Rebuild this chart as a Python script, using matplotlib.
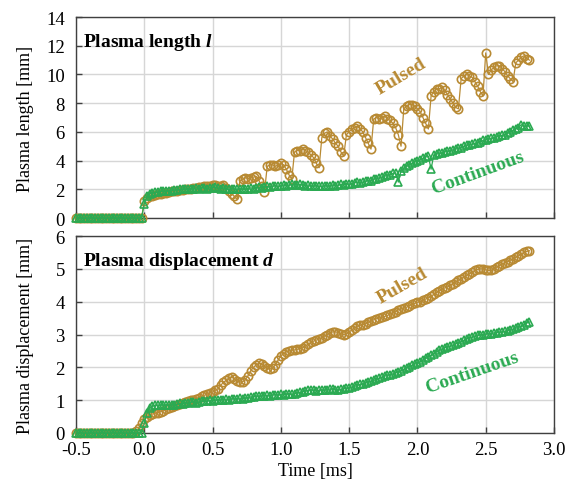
import numpy as np
import matplotlib
matplotlib.use("Agg")
import matplotlib.pyplot as plt

plt.rcParams['font.family'] = ['Liberation Serif', 'DejaVu Serif']
plt.rcParams['mathtext.fontset'] = 'custom'
plt.rcParams['mathtext.rm'] = 'Liberation Serif'
plt.rcParams['mathtext.it'] = 'Liberation Serif:italic'
plt.rcParams['mathtext.bf'] = 'Liberation Serif:bold'
plt.rcParams['mathtext.bfit'] = 'Liberation Serif:italic:bold'

# time base (ms), sampled every 0.02 ms
time_ms = np.round(np.arange(-0.5, 2.8201, 0.02), 2)

zeros_pre = [0, 0, 0, 0, 0, 0, 0, 0, 0, 0,
             0, 0, 0, 0, 0, 0, 0, 0, 0, 0,
             0, 0, 0, 0, 0]

pulsed_length = zeros_pre + [
    1.2, 1.4, 1.5, 1.55, 1.6, 1.65, 1.7, 1.72, 1.75, 1.8,
    1.85, 1.85, 1.9, 1.95, 1.95, 2.0, 2.0, 2.05, 2.1, 2.1,
    2.15, 2.15, 2.2, 2.25, 2.2, 2.3, 2.3, 2.25, 2.2, 2.3,
    2.1, 1.9, 1.7, 1.5, 1.3, 2.6, 2.7, 2.8, 2.75, 2.8,
    2.85, 2.9, 2.6, 2.2, 1.8, 3.6, 3.7, 3.7, 3.6, 3.7,
    3.8, 3.7, 3.4, 3.0, 2.7, 4.6, 4.7, 4.7, 4.8, 4.7,
    4.6, 4.4, 4.2, 3.8, 3.5, 5.6, 5.9, 6.0, 5.7, 5.5,
    5.2, 5.0, 4.6, 4.3, 5.8, 6.0, 6.2, 6.3, 6.4, 6.2,
    6.0, 5.6, 5.2, 4.8, 6.9, 7.0, 6.9, 7.0, 7.1, 6.9,
    6.8, 6.6, 6.3, 5.8, 5.0, 7.6, 7.8, 7.9, 7.9, 7.8,
    7.6, 7.4, 7.0, 6.6, 6.2, 8.5, 8.8, 9.0, 9.0, 9.1,
    8.9, 8.6, 8.3, 8.0, 7.7, 7.6, 9.7, 9.9, 10.0, 9.9,
    9.8, 9.5, 9.2, 8.8, 8.5, 11.5, 10.0, 10.3, 10.5, 10.6,
    10.6, 10.4, 10.2, 9.9, 9.7, 9.5, 10.8, 11.0, 11.2, 11.3,
    11.1, 11.0]

continuous_length = zeros_pre + [
    1.0, 1.5, 1.7, 1.75, 1.8, 1.8, 1.85, 1.85, 1.9, 1.9,
    1.9, 1.95, 1.95, 2.0, 2.0, 2.0, 2.05, 2.0, 2.05, 2.1,
    2.05, 2.1, 2.1, 2.05, 2.1, 2.1, 2.15, 2.1, 2.05, 2.1,
    2.05, 2.0, 2.05, 2.0, 2.0, 2.05, 2.0, 2.0, 2.05, 2.1,
    2.05, 2.1, 2.15, 2.1, 2.15, 2.2, 2.15, 2.2, 2.25, 2.2,
    2.25, 2.3, 2.25, 2.3, 2.35, 2.3, 2.3, 2.35, 2.3, 2.25,
    2.3, 2.25, 2.2, 2.25, 2.2, 2.2, 2.25, 2.2, 2.25, 2.3,
    2.25, 2.3, 2.35, 2.3, 2.4, 2.35, 2.4, 2.45, 2.5, 2.45,
    2.5, 2.55, 2.6, 2.6, 2.7, 2.75, 2.8, 2.85, 2.9, 3.0,
    3.0, 3.1, 3.15, 2.5, 3.3, 3.45, 3.6, 3.7, 3.8, 3.9,
    3.95, 4.05, 4.15, 4.25, 4.3, 3.4, 4.4, 4.45, 4.5, 4.55,
    4.6, 4.65, 4.7, 4.75, 4.8, 4.85, 4.9, 5.0, 5.05, 5.1,
    5.15, 5.2, 5.25, 5.3, 5.4, 5.45, 5.5, 5.55, 5.6, 5.65,
    5.7, 5.75, 5.8, 5.9, 6.0, 6.1, 6.2, 6.3, 6.5, 6.4,
    6.4, 6.4]

pulsed_disp = [0, 0, 0, 0, 0, 0, 0, 0, 0, 0,
               0, 0, 0, 0, 0, 0, 0, 0, 0, 0,
               0, 0, 0.05, 0.15, 0.3] + [
    0.42, 0.5, 0.55, 0.58, 0.6, 0.62, 0.65, 0.68, 0.72, 0.75,
    0.78, 0.82, 0.85, 0.88, 0.9, 0.93, 0.96, 1.0, 1.02, 1.05,
    1.08, 1.12, 1.15, 1.18, 1.22, 1.25, 1.3, 1.35, 1.45, 1.55,
    1.6, 1.68, 1.7, 1.65, 1.58, 1.55, 1.56, 1.62, 1.75, 1.9,
    2.0, 2.08, 2.12, 2.1, 2.03, 1.97, 1.95, 1.98, 2.08, 2.22,
    2.35, 2.42, 2.47, 2.5, 2.52, 2.53, 2.55, 2.57, 2.6, 2.65,
    2.7, 2.76, 2.8, 2.83, 2.86, 2.9, 2.95, 3.0, 3.05, 3.08,
    3.08, 3.06, 3.02, 3.0, 3.02, 3.08, 3.14, 3.2, 3.25, 3.28,
    3.3, 3.33, 3.37, 3.4, 3.45, 3.48, 3.5, 3.52, 3.55, 3.58,
    3.62, 3.65, 3.7, 3.75, 3.78, 3.8, 3.83, 3.88, 3.92, 3.95,
    3.98, 4.0, 4.04, 4.08, 4.12, 4.17, 4.22, 4.28, 4.33, 4.38,
    4.42, 4.45, 4.5, 4.55, 4.6, 4.65, 4.7, 4.75, 4.8, 4.85,
    4.9, 4.95, 4.98, 5.0, 5.0, 4.97, 4.95, 4.95, 5.0, 5.05,
    5.1, 5.15, 5.18, 5.22, 5.26, 5.3, 5.35, 5.4, 5.45, 5.5,
    5.53, 5.55]

continuous_disp = zeros_pre + [
    0.3, 0.6, 0.75, 0.82, 0.85, 0.84, 0.85, 0.84, 0.86, 0.85,
    0.86, 0.84, 0.87, 0.9, 0.88, 0.92, 0.9, 0.93, 0.95, 0.92,
    0.95, 0.97, 0.96, 0.98, 1.0, 0.98, 1.0, 1.02, 1.0, 1.02,
    1.03, 1.02, 1.04, 1.03, 1.05, 1.06, 1.05, 1.07, 1.08, 1.1,
    1.1, 1.12, 1.13, 1.12, 1.14, 1.15, 1.14, 1.16, 1.17, 1.16,
    1.18, 1.17, 1.19, 1.2, 1.18, 1.2, 1.22, 1.24, 1.26, 1.28,
    1.3, 1.32, 1.3, 1.28, 1.3, 1.32, 1.3, 1.32, 1.34, 1.35,
    1.3, 1.32, 1.33, 1.35, 1.36, 1.38, 1.4, 1.42, 1.45, 1.48,
    1.5, 1.52, 1.55, 1.58, 1.6, 1.63, 1.66, 1.7, 1.73, 1.76,
    1.78, 1.8, 1.83, 1.86, 1.9, 1.94, 1.98, 2.02, 2.06, 2.1,
    2.12, 2.17, 2.22, 2.27, 2.32, 2.37, 2.42, 2.47, 2.52, 2.56,
    2.6, 2.62, 2.65, 2.68, 2.72, 2.75, 2.78, 2.82, 2.86, 2.9,
    2.92, 2.95, 2.97, 2.98, 3.0, 3.01, 3.02, 3.03, 3.05, 3.06,
    3.07, 3.08, 3.1, 3.12, 3.14, 3.16, 3.19, 3.22, 3.26, 3.3,
    3.35, 3.38]

x_ticks = [-0.5, 0.0, 0.5, 1.0, 1.5, 2.0, 2.5, 3.0]
x_ticklabels = ["-0.5", "0.0", "0.5", "1.0", "1.5", "2.0", "2.5", "3.0"]

BROWN = "#B88A33"
GREEN = "#2BAA52"
FS_TICK = 13.5
FS_LAB = 13

fig = plt.figure(figsize=(5.67, 4.89), dpi=100)
ax1 = fig.add_axes([76/567, 1-219/489, 478/567, 201/489])
ax2 = fig.add_axes([76/567, 1-434/489, 478/567, 197/489])

def style(ax):
    ax.set_xlim(-0.5, 3.0)
    ax.set_xticks(x_ticks)
    ax.grid(True, color="#d6d6d6", lw=1.0, zorder=0)
    ax.set_axisbelow(True)
    for s in ax.spines.values():
        s.set_color("#404040")
        s.set_linewidth(1.0)
    ax.tick_params(direction="in", length=4, width=1, color="#404040",
                   labelsize=FS_TICK)
    ax.tick_params(axis="y", pad=8)
    ax.tick_params(axis="x", pad=6)

def plot_pair(ax, yp, yc):
    ax.plot(time_ms, yp, color=BROWN, lw=0.9, marker="o", ms=6.0,
            mfc="none", mec=BROWN, mew=1.2, zorder=3, clip_on=False)
    ax.plot(time_ms, yc, color=GREEN, lw=0.9, marker="^", ms=5.5,
            mfc="none", mec=GREEN, mew=1.2, zorder=4, clip_on=False)

style(ax1)
plot_pair(ax1, pulsed_length, continuous_length)
ax1.set_ylim(0, 14)
ax1.set_yticks([0, 2, 4, 6, 8, 10, 12, 14])
ax1.set_xticklabels([])
ax1.set_ylabel("Plasma length [mm]", fontsize=FS_LAB)
ax1.yaxis.set_label_coords(-0.088, 0.5)
ax1.text(0.015, 0.93, r"Plasma length $\mathbfit{l}$", transform=ax1.transAxes,
         fontsize=14, fontweight="bold", va="top", ha="left")
ax1.text(1.88, 9.9, "Pulsed", color=BROWN, fontsize=14, fontweight="bold",
         rotation=31, ha="center", va="center", rotation_mode="anchor")
ax1.text(2.44, 3.2, "Continuous", color=GREEN, fontsize=14, fontweight="bold",
         rotation=20, ha="center", va="center", rotation_mode="anchor")

style(ax2)
plot_pair(ax2, pulsed_disp, continuous_disp)
ax2.set_ylim(0, 6)
ax2.set_yticks([0, 1, 2, 3, 4, 5, 6])
ax2.set_xticklabels(x_ticklabels)
ax2.set_xlabel("Time [ms]", fontsize=FS_LAB, labelpad=3)
ax2.set_ylabel("Plasma displacement [mm]", fontsize=FS_LAB)
ax2.yaxis.set_label_coords(-0.088, 0.5)
ax2.text(0.015, 0.93, r"Plasma displacement $\mathbfit{d}$", transform=ax2.transAxes,
         fontsize=14, fontweight="bold", va="top", ha="left")
ax2.text(1.89, 4.5, "Pulsed", color=BROWN, fontsize=14, fontweight="bold",
         rotation=30, ha="center", va="center", rotation_mode="anchor")
ax2.text(2.40, 1.87, "Continuous", color=GREEN, fontsize=14, fontweight="bold",
         rotation=19, ha="center", va="center", rotation_mode="anchor")

fig.savefig("out.png", dpi=100)
